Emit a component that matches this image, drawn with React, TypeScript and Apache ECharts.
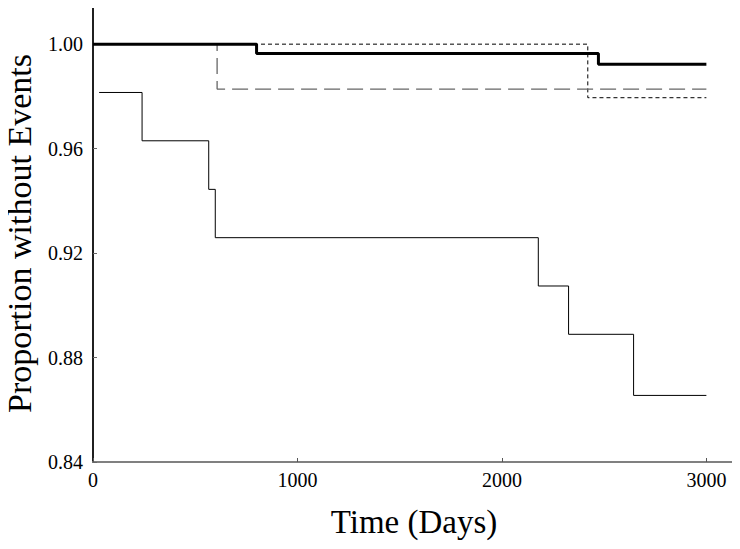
import React, { useEffect, useRef } from "react";
import * as echarts from "echarts";

const yTicks = [0.84, 0.88, 0.92, 0.96, 1.0];
const xTicks = [0, 1000, 2000, 3000];

const thinTimes = [30, 240, 566, 598, 2178, 2326, 2644, 3000];
const thinValues = [0.9815, 0.963, 0.9444, 0.9259, 0.9074, 0.8889, 0.8655, 0.8655];

const dottedTimes = [0, 2420, 3000];
const dottedValues = [1.0, 0.9795, 0.9795];

const dashedTimes = [0, 607, 3000];
const dashedValues = [1.0, 0.9828, 0.9828];

const thickTimes = [0, 800, 2472, 3000];
const thickValues = [1.0, 0.9964, 0.9923, 0.9923];

const pairs = (t: number[], v: number[]) => t.map((x, i) => [x, v[i]]);

const FONT = "'Liberation Serif', 'Times New Roman', serif";

export default function App() {
  const ref = useRef<HTMLDivElement>(null);
  useEffect(() => {
    if (!ref.current) return;
    const chart = echarts.init(ref.current, undefined, { renderer: "svg" });
    chart.setOption({
      animation: false,
      backgroundColor: "#ffffff",
      grid: {
        left: 93,
        right: 5,
        top: 5,
        bottom: 87,
        containLabel: false,
        outerBoundsMode: "none",
        show: true,
        borderColor: "#808080",
        borderWidth: 2,
        backgroundColor: "transparent",
      },
      xAxis: {
        type: "value",
        min: 0,
        max: 3140,
        interval: 1000,
        name: "Time (Days)",
        nameLocation: "middle",
        nameGap: 43,
        nameTextStyle: { fontFamily: FONT, fontSize: 33, color: "#000" },
        axisLine: { show: true, lineStyle: { color: "#808080", width: 2 } },
        axisTick: { show: true, inside: true, length: 4, lineStyle: { color: "#555" } },
        axisLabel: {
          fontFamily: FONT,
          fontSize: 20,
          color: "#000",
          margin: 8,
          showMaxLabel: false,
          formatter: (v: number) => (xTicks.includes(v) ? String(v) : ""),
        },
        splitLine: { show: false },
      },
      yAxis: {
        type: "value",
        min: 0.84,
        max: 1.015,
        interval: 0.04,
        name: "Proportion without Events",
        nameLocation: "middle",
        nameGap: 54,
        nameTextStyle: { fontFamily: FONT, fontSize: 34, color: "#000", lineHeight: 36 },
        axisLine: { show: true, lineStyle: { color: "#000", width: 1.5 } },
        axisTick: { show: true, inside: true, length: 4, lineStyle: { color: "#666" } },
        axisLabel: {
          fontFamily: FONT,
          fontSize: 20,
          color: "#000",
          margin: 10,
          showMaxLabel: false,
          formatter: (v: number) => {
            const m = yTicks.find((t) => Math.abs(t - v) < 1e-6);
            return m !== undefined ? m.toFixed(2) : "";
          },
        },
        splitLine: { show: false },
      },
      series: [
        {
          type: "line",
          step: "end",
          data: pairs(thinTimes, thinValues),
          symbol: "none",
          lineStyle: { color: "#000", width: 1 },
        },
        {
          type: "line",
          step: "end",
          data: pairs(dottedTimes, dottedValues),
          symbol: "none",
          lineStyle: { color: "#000", width: 1, type: [4, 3] },
        },
        {
          type: "line",
          step: "end",
          data: pairs(dashedTimes, dashedValues),
          symbol: "none",
          lineStyle: { color: "#666", width: 1.3, type: [16, 7] },
        },
        {
          type: "line",
          step: "end",
          data: pairs(thickTimes, thickValues),
          symbol: "none",
          lineStyle: { color: "#000", width: 3 },
        },
      ],
    });
    return () => chart.dispose();
  }, []);
  return <div ref={ref} style={{ width: 740, height: 549, margin: -8 }} />;
}
